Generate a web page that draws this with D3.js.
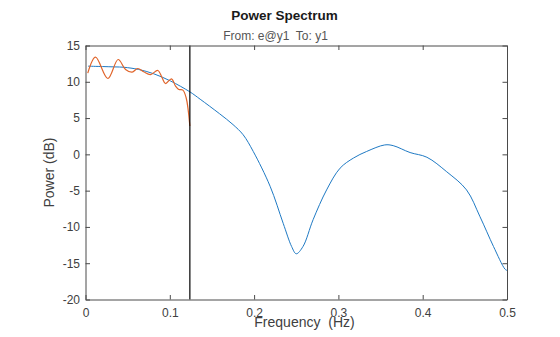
<!DOCTYPE html>
<html>
<head>
<meta charset="utf-8">
<script src="https://cdn.jsdelivr.net/npm/d3@7"></script>
<style>
  html, body { margin: 0; padding: 0; background: #fff; }
  svg { display: block; font-family: "Liberation Sans", Arial, Helvetica, sans-serif; }
  text { white-space: pre; }
</style>
</head>
<body>
<svg id="chart" width="560" height="337"></svg>
<script>
// ---- data ----
const titleText = "Power Spectrum";
const subtitleText = "From: e@y1  To: y1";
const xLabelText = "Frequency  (Hz)";
const yLabelText = "Power (dB)";

const xTicks = [0, 0.1, 0.2, 0.3, 0.4, 0.5];
const yTicks = [-20, -15, -10, -5, 0, 5, 10, 15];

// model spectrum (blue)
const modelFreq = [0.003, 0.02, 0.035, 0.0455, 0.063, 0.081, 0.101, 0.124, 0.136, 0.159, 0.175, 0.187, 0.199, 0.219, 0.2345, 0.2445, 0.250, 0.258, 0.270, 0.286, 0.302, 0.318, 0.3335, 0.355, 0.365, 0.385, 0.405, 0.4285, 0.452, 0.468, 0.484, 0.4975, 0.5];
const modelPower = [12.15, 12.1, 12.05, 12.0, 11.7, 11.1, 10.1, 8.6, 7.6, 5.6, 4.1, 2.7, 0.4, -4.4, -9.5, -12.7, -13.7, -12.7, -9.0, -4.9, -1.9, -0.5, 0.4, 1.3, 1.2, 0.25, -0.4, -2.4, -4.9, -8.6, -12.7, -15.8, -16.0];

// estimated spectrum (orange)
const estFreq = [0.0027, 0.0119, 0.0265, 0.0387, 0.0475, 0.0553, 0.062, 0.069, 0.077, 0.0858, 0.0909, 0.0949, 0.102, 0.1068, 0.1107, 0.1155, 0.1194, 0.1238];
const estPower = [11.2, 13.4, 10.45, 13.07, 11.7, 11.33, 11.83, 11.38, 11.0, 11.56, 10.55, 9.76, 10.41, 9.4, 8.94, 8.85, 7.8, 3.9];

// cutoff marker frequency (vertical black line)
const cutoffFreq = 0.1238;

// ---- layout ----
const W = 560, H = 337;
const margin = { left: 85.5, right: 53, top: 45.5, bottom: 37.5 };
const plotW = W - margin.left - margin.right;
const plotH = H - margin.top - margin.bottom;

const svg = d3.select("#chart");
const g = svg.append("g").attr("transform", `translate(${margin.left},${margin.top})`);

const x = d3.scaleLinear().domain([0, 0.5]).range([0, plotW]);
const y = d3.scaleLinear().domain([-20, 15]).range([plotH, 0]);

const axisColor = "#4a4a4a";
const textColor = "#404040";

// curves
const model = modelFreq.map((f, i) => [f, modelPower[i]]);
const est = estFreq.map((f, i) => [f, estPower[i]]);

const line = d3.line()
  .x(d => x(d[0]))
  .y(d => y(d[1]))
  .curve(d3.curveCatmullRom.alpha(0.5));

g.append("path")
  .datum(model)
  .attr("fill", "none")
  .attr("stroke", "#1f7ac4")
  .attr("stroke-width", 1)
  .attr("d", line);

g.append("path")
  .datum(est)
  .attr("fill", "none")
  .attr("stroke", "#e0642a")
  .attr("stroke-width", 1.2)
  .attr("d", line);

// vertical cutoff line
g.append("line")
  .attr("x1", x(cutoffFreq)).attr("x2", x(cutoffFreq))
  .attr("y1", 0).attr("y2", plotH)
  .attr("stroke", "#000")
  .attr("stroke-width", 1.2);

// axes
const tickLen = 4.5;
const fmtX = d => d === 0 ? "0" : d3.format(".1f")(d);
const fmtY = d => String(d);

const xAxisB = d3.axisBottom(x).tickValues(xTicks).tickFormat(fmtX).tickSizeInner(-tickLen).tickSizeOuter(0).tickPadding(9);
const xAxisT = d3.axisTop(x).tickValues(xTicks).tickFormat("").tickSizeInner(-tickLen).tickSizeOuter(0);
const yAxisL = d3.axisLeft(y).tickValues(yTicks).tickFormat(fmtY).tickSizeInner(-tickLen).tickSizeOuter(0).tickPadding(5.5);
const yAxisR = d3.axisRight(y).tickValues(yTicks).tickFormat("").tickSizeInner(-tickLen).tickSizeOuter(0);

function styleAxis(sel) {
  sel.selectAll("path.domain").attr("stroke", axisColor).attr("stroke-width", 1);
  sel.selectAll(".tick line").attr("stroke", axisColor).attr("stroke-width", 1);
  sel.selectAll(".tick text").attr("fill", textColor).style("font-size", "12px")
     .style("font-family", '"Liberation Sans", Arial, Helvetica, sans-serif');
}

g.append("g").attr("transform", `translate(0,${plotH})`).call(xAxisB).call(styleAxis);
g.append("g").call(xAxisT).call(styleAxis);
g.append("g").call(yAxisL).call(styleAxis);
g.append("g").attr("transform", `translate(${plotW},0)`).call(yAxisR).call(styleAxis);

// titles
svg.append("text")
  .attr("x", 284.5).attr("y", 19.5)
  .attr("text-anchor", "middle")
  .attr("fill", "#1a1a1a")
  .style("font-size", "13.5px")
  .style("font-weight", "bold")
  .text(titleText);

svg.append("text")
  .attr("x", 275.5).attr("y", 40)
  .attr("text-anchor", "middle")
  .attr("fill", "#555")
  .style("font-size", "12px")
  .text(subtitleText);

svg.append("text")
  .attr("x", 304.5).attr("y", 327)
  .attr("text-anchor", "middle")
  .attr("fill", textColor)
  .style("font-size", "14px")
  .text(xLabelText);

svg.append("text")
  .attr("transform", `translate(53.5,172.5) rotate(-90)`)
  .attr("text-anchor", "middle")
  .attr("fill", textColor)
  .style("font-size", "14px")
  .text(yLabelText);
</script>
</body>
</html>
